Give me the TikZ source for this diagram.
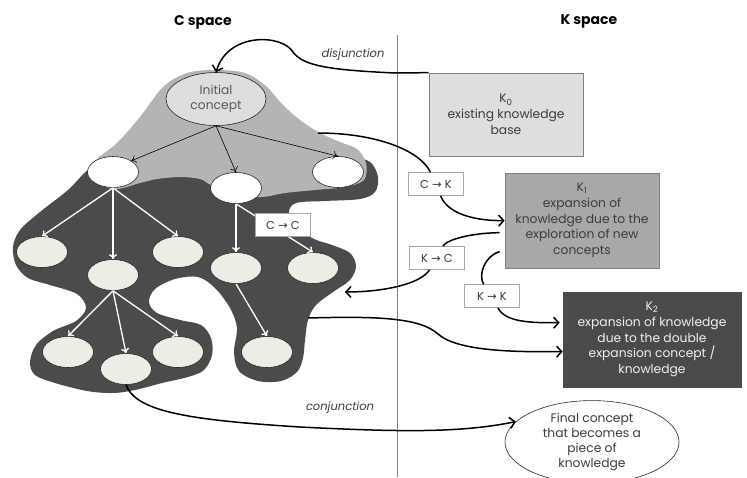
\documentclass[tikz,border=0pt]{standalone}
\usepackage{fontspec}
\setmainfont{Poppins}
\newfontfamily\arrowfont{DejaVu Sans}
\usetikzlibrary{arrows.meta,shapes.geometric,calc}
\definecolor{lightblob}{HTML}{B4B4B4}
\definecolor{darkblob}{HTML}{4B4B4B}
\definecolor{beige}{HTML}{EEEDE4}
\definecolor{kzero}{HTML}{DEDEDE}
\definecolor{kone}{HTML}{A8A8A8}
\definecolor{ktwo}{HTML}{4A4A4A}
\definecolor{txt}{HTML}{3C3C3C}
\newcommand{\arr}{{\arrowfont →}}
\tikzset{
  title/.style={font=\bfseries\fontsize{14}{17}\selectfont},
  concept/.style={ellipse, draw=black!85, line width=0.6pt, minimum width=51pt, minimum height=31pt, inner sep=0pt},
  wconcept/.style={concept, fill=white},
  bconcept/.style={concept, fill=beige},
  treearrow/.style={line width=0.6pt, -{To[length=5pt,width=8pt]}},
  whitearrow/.style={draw=white, line width=1.3pt, -{To[length=5pt,width=8pt]}},
  conn/.style={line width=1.5pt, -{Straight Barb[length=5pt,width=11pt]}},
  connplain/.style={line width=1.5pt},
  kbox/.style={draw=black!50, line width=0.7pt, align=center, inner sep=0pt, font=\fontsize{12.3}{15.8}\selectfont, text=txt},
  lab/.style={draw=black!35, line width=0.6pt, fill=white, font=\fontsize{11.5}{13}\selectfont, text=txt, minimum width=55pt, minimum height=23pt, inner sep=1pt},
  ital/.style={font=\itshape\fontsize{11.5}{13}\selectfont, text=txt},
}
\begin{document}
\begin{tikzpicture}[x=1pt,y=-1pt]
\useasboundingbox (0,0) rectangle (747,477);

% titles
\node[title] (ctitle) at (203,22) {C space};
\node[title] (ktitle) at (589,21) {K space};

% divider
\draw[black!50, line width=0.8pt] (397,35) -- (397,477);

% dark blob
\fill[darkblob] plot[smooth cycle, tension=0.55] coordinates {
 (110,160) (200,165) (300,165) (350,158) (370,162) (378,177) (375,192) (360,199)
 (325,201) (296,203) (289,213) (297,228) (314,239) (332,245) (350,253) (356,266)
 (350,280) (333,292) (316,305) (308,320) (305,340) (303,358) (297,372) (281,381)
 (258,381) (239,371) (234,352) (237,328) (230,308) (215,288) (198,277) (175,279)
 (155,289) (149,302) (157,313) (180,320) (201,325) (211,338) (212,355) (204,370)
 (188,377) (162,383) (135,390) (113,393) (87,391) (55,383) (35,375) (30,362)
 (36,345) (53,331) (76,321) (86,308) (77,294) (50,285) (28,278) (16,265)
 (13,247) (20,230) (40,212) (68,190) (88,170)};

% light blob
\fill[lightblob] plot[smooth cycle, tension=0.55] coordinates {
 (216,70) (245,73) (266,86) (282,104) (300,120) (320,133) (340,142) (357,149)
 (366,163) (364,180) (345,187) (315,190) (285,193) (262,197) (236,195) (211,185)
 (200,179) (180,177) (157,179) (140,183) (113,189) (90,176) (96,160) (117,143)
 (140,117) (163,87) (187,73)};

% concept nodes
\node[concept, fill=kzero, minimum width=100pt, minimum height=53pt, align=center,
      font=\fontsize{12.3}{15}\selectfont, text=black!65] (init) at (216,99) {Initial\\concept};
\node[wconcept] (A) at (113,172) {};
\node[wconcept] (B) at (236,188) {};
\node[wconcept] (C) at (338,172) {};
\node[bconcept] (D1) at (42,252) {};
\node[bconcept] (D2) at (113,275) {};
\node[bconcept] (D3) at (178,252) {};
\node[bconcept] (D4) at (236,268) {};
\node[bconcept] (D5) at (313,268) {};
\node[bconcept] (E1) at (68,352) {};
\node[bconcept] (E2) at (126,369) {};
\node[bconcept] (E3) at (178,352) {};
\node[bconcept] (E4) at (267,352) {};

% tree arrows
\draw[treearrow] (init.south) -- (A.north east);
\draw[treearrow] (init.south) -- (B.north);
\draw[treearrow] (init.south) -- (C.north);
\draw[whitearrow] (A.south) -- (D1.north);
\draw[whitearrow] (A.south) -- (D2.north);
\draw[whitearrow] (A.south) -- (D3.north);
\draw[whitearrow] (D2.south) -- (E1.north);
\draw[whitearrow] (D2.south) -- (E2.north);
\draw[whitearrow] (D2.south) -- (E3.north);
\draw[whitearrow] (B.south) -- (D4.north);
\draw[whitearrow] (B.south) -- (D5.north);
\draw[whitearrow] (D4.south) -- (E4.north);

% K boxes
\node[kbox, fill=kzero, minimum width=154pt, minimum height=83pt] (K0) at (506,114.5)
  {K\textsubscript{0}\\existing knowledge\\base};
\node[kbox, fill=kone, minimum width=154pt, minimum height=95pt] (K1) at (582,220.5)
  {K\textsubscript{1}\\expansion of\\knowledge due to the\\exploration of new\\concepts};
\node[kbox, fill=ktwo, draw=ktwo, text=white!94!black, minimum width=178pt, minimum height=95pt] (K2) at (652,339.5)
  {K\textsubscript{2}\\expansion of knowledge\\due to the double\\expansion concept /\\knowledge};
\node[ellipse, draw=black!85, line width=0.6pt, fill=white, minimum width=174pt, minimum height=72pt,
      inner sep=0pt, align=center, font=\fontsize{12.3}{15.3}\selectfont, text=txt] (fin) at (592,442)
  {Final concept\\that becomes a\\piece of\\knowledge};

% free connector ends
\coordinate (ck) at (318,133);
\coordinate (dk) at (308,318);
\coordinate (cdark) at (345,292);
\coordinate (k1a) at ($(K1.north west)+(-5,60)$);
\coordinate (k1b) at ($(K1.north west)+(-5,79)$);
\coordinate (k2a) at ($(K2.north west)+(-3,31)$);
\coordinate (k2b) at ($(K2.north west)+(0,60)$);

% label nodes
\node[lab] (lck) at (436,184) {C \arr{} K};
\node[lab] (lkc) at (437,258) {K \arr{} C};
\node[lab] (lkk) at (492,296) {K \arr{} K};
\node[lab] (lcc) at (283,225) {C \arr{} C};

% connectors
\draw[conn] (K0.north west) -- (395,73) .. controls (330,70) and (303,66) .. (293,52)
  .. controls (282,34) and (228,32) .. (init.north);
\draw[connplain] (ck) .. controls (375,133) and (420,150) .. (lck);
\draw[conn] (lck) .. controls (448,215) and (478,221) .. (K1.west);
\draw[connplain] (k1a) .. controls (470,233) and (446,240) .. (lkc);
\draw[conn] (lkc) .. controls (420,285) and (380,292) .. (cdark);
\draw[connplain] (k1b) .. controls (484,256) and (478,276) .. (lkk);
\draw[conn] (lkk) .. controls (505,322) and (530,323) .. (k2a);
\draw[conn] (dk) .. controls (380,316) and (420,318) .. (438,334)
  .. controls (458,352) and (520,352) .. (k2b);
\draw[conn] (E2.south) .. controls (136,412) and (190,420) .. (300,427)
  .. controls (400,432) and (460,433) .. (fin.165);

% italic labels
\node[ital] (disj) at (353,55) {disjunction};
\node[ital] (conj) at (340,408) {conjunction};
\end{tikzpicture}
\end{document}
